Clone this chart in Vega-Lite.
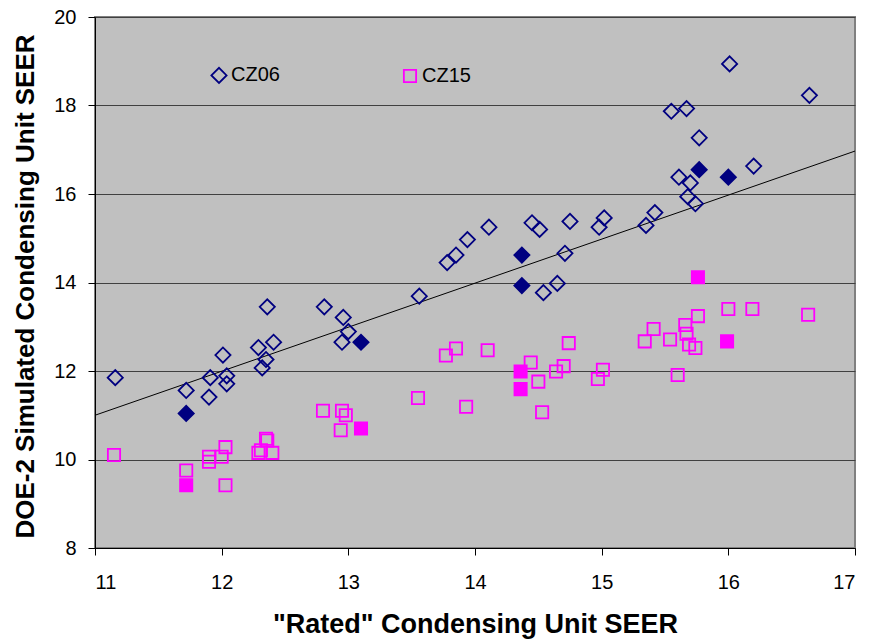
{
  "$schema": "https://vega.github.io/schema/vega-lite/v6.json",
  "width": 760,
  "height": 531,
  "autosize": {"type": "none"},
  "padding": {"left": 95, "top": 17, "right": 15, "bottom": 95},
  "background": "white",
  "config": {
    "view": {"fill": "#C0C0C0", "stroke": "#808080", "strokeWidth": 2},
    "font": "Liberation Sans",
    "axis": {
      "domainColor": "black", "tickColor": "black", "labelColor": "black", "titleColor": "black",
      "labelFont": "Liberation Sans", "titleFont": "Liberation Sans",
      "labelFontSize": 20, "titleFontSize": 26, "titleFontWeight": "bold",
      "tickSize": 7, "gridColor": "#404040", "gridOpacity": 1, "gridWidth": 1,
      "domainWidth": 1, "tickWidth": 1
    }
  },
  "layer": [
    {
      "data": {"values": [{"rated": 11, "sim": 11.0}, {"rated": 17, "sim": 16.97}]},
      "mark": {"type": "line", "color": "black", "strokeWidth": 1},
      "encoding": {
        "x": {"field": "rated", "type": "quantitative",
          "scale": {"domain": [11, 17], "nice": false, "zero": false},
          "axis": {"values": [11, 12, 13, 14, 15, 16, 17], "format": "d", "grid": false, "labelPadding": 17,
            "title": "\"Rated\" Condensing Unit SEER", "titleFontSize": 27, "titleX": 380, "titleY": 84,
            "titleBaseline": "alphabetic", "titleAlign": "center"}},
        "y": {"field": "sim", "type": "quantitative",
          "scale": {"domain": [8, 20], "nice": false, "zero": false},
          "axis": {"values": [8, 10, 12, 14, 16, 18, 20], "format": "d", "grid": true, "labelPadding": 12,
            "title": "DOE-2 Simulated Condensing Unit SEER", "titleFontSize": 26, "titleX": -62, "titleY": 269,
            "titleAngle": 270, "titleBaseline": "alphabetic", "titleAlign": "center"}}
      }
    },
    {
      "data": {"values": [
        {"series": "CZ06", "rated": 11.16, "sim": 11.85, "marked": false},
        {"series": "CZ06", "rated": 11.72, "sim": 11.56, "marked": false},
        {"series": "CZ06", "rated": 11.72, "sim": 11.04, "marked": true},
        {"series": "CZ06", "rated": 11.90, "sim": 11.41, "marked": false},
        {"series": "CZ06", "rated": 11.91, "sim": 11.85, "marked": false},
        {"series": "CZ06", "rated": 12.01, "sim": 12.36, "marked": false},
        {"series": "CZ06", "rated": 12.04, "sim": 11.89, "marked": false},
        {"series": "CZ06", "rated": 12.04, "sim": 11.71, "marked": false},
        {"series": "CZ06", "rated": 12.29, "sim": 12.53, "marked": false},
        {"series": "CZ06", "rated": 12.32, "sim": 12.07, "marked": false},
        {"series": "CZ06", "rated": 12.35, "sim": 12.26, "marked": false},
        {"series": "CZ06", "rated": 12.36, "sim": 13.45, "marked": false},
        {"series": "CZ06", "rated": 12.41, "sim": 12.65, "marked": false},
        {"series": "CZ06", "rated": 12.81, "sim": 13.45, "marked": false},
        {"series": "CZ06", "rated": 12.96, "sim": 13.21, "marked": false},
        {"series": "CZ06", "rated": 12.95, "sim": 12.65, "marked": false},
        {"series": "CZ06", "rated": 13.00, "sim": 12.89, "marked": false},
        {"series": "CZ06", "rated": 13.10, "sim": 12.65, "marked": true},
        {"series": "CZ06", "rated": 13.56, "sim": 13.69, "marked": false},
        {"series": "CZ06", "rated": 13.78, "sim": 14.45, "marked": false},
        {"series": "CZ06", "rated": 13.85, "sim": 14.62, "marked": false},
        {"series": "CZ06", "rated": 13.94, "sim": 14.97, "marked": false},
        {"series": "CZ06", "rated": 14.11, "sim": 15.25, "marked": false},
        {"series": "CZ06", "rated": 14.37, "sim": 14.62, "marked": true},
        {"series": "CZ06", "rated": 14.37, "sim": 13.93, "marked": true},
        {"series": "CZ06", "rated": 14.45, "sim": 15.35, "marked": false},
        {"series": "CZ06", "rated": 14.51, "sim": 15.20, "marked": false},
        {"series": "CZ06", "rated": 14.54, "sim": 13.77, "marked": false},
        {"series": "CZ06", "rated": 14.65, "sim": 13.98, "marked": false},
        {"series": "CZ06", "rated": 14.71, "sim": 14.66, "marked": false},
        {"series": "CZ06", "rated": 14.75, "sim": 15.38, "marked": false},
        {"series": "CZ06", "rated": 14.98, "sim": 15.25, "marked": false},
        {"series": "CZ06", "rated": 15.02, "sim": 15.46, "marked": false},
        {"series": "CZ06", "rated": 15.35, "sim": 15.29, "marked": false},
        {"series": "CZ06", "rated": 15.42, "sim": 15.58, "marked": false},
        {"series": "CZ06", "rated": 15.55, "sim": 17.87, "marked": false},
        {"series": "CZ06", "rated": 15.67, "sim": 17.93, "marked": false},
        {"series": "CZ06", "rated": 15.77, "sim": 17.27, "marked": false},
        {"series": "CZ06", "rated": 15.77, "sim": 16.55, "marked": true},
        {"series": "CZ06", "rated": 16.00, "sim": 16.38, "marked": true},
        {"series": "CZ06", "rated": 16.20, "sim": 16.63, "marked": false},
        {"series": "CZ06", "rated": 15.61, "sim": 16.38, "marked": false},
        {"series": "CZ06", "rated": 15.70, "sim": 16.25, "marked": false},
        {"series": "CZ06", "rated": 15.68, "sim": 15.94, "marked": false},
        {"series": "CZ06", "rated": 15.74, "sim": 15.78, "marked": false},
        {"series": "CZ06", "rated": 16.01, "sim": 18.94, "marked": false},
        {"series": "CZ06", "rated": 16.64, "sim": 18.23, "marked": false},
        {"series": "CZ15", "rated": 11.15, "sim": 10.10, "marked": false},
        {"series": "CZ15", "rated": 11.72, "sim": 9.75, "marked": false},
        {"series": "CZ15", "rated": 11.72, "sim": 9.42, "marked": true},
        {"series": "CZ15", "rated": 11.90, "sim": 10.06, "marked": false},
        {"series": "CZ15", "rated": 11.90, "sim": 9.95, "marked": false},
        {"series": "CZ15", "rated": 12.00, "sim": 10.06, "marked": false},
        {"series": "CZ15", "rated": 12.03, "sim": 10.28, "marked": false},
        {"series": "CZ15", "rated": 12.03, "sim": 9.42, "marked": false},
        {"series": "CZ15", "rated": 12.35, "sim": 10.47, "marked": false},
        {"series": "CZ15", "rated": 12.36, "sim": 10.43, "marked": false},
        {"series": "CZ15", "rated": 12.31, "sim": 10.21, "marked": false},
        {"series": "CZ15", "rated": 12.29, "sim": 10.15, "marked": false},
        {"series": "CZ15", "rated": 12.40, "sim": 10.15, "marked": false},
        {"series": "CZ15", "rated": 12.80, "sim": 11.10, "marked": false},
        {"series": "CZ15", "rated": 12.95, "sim": 11.10, "marked": false},
        {"series": "CZ15", "rated": 12.98, "sim": 11.00, "marked": false},
        {"series": "CZ15", "rated": 12.94, "sim": 10.66, "marked": false},
        {"series": "CZ15", "rated": 13.10, "sim": 10.70, "marked": true},
        {"series": "CZ15", "rated": 13.55, "sim": 11.39, "marked": false},
        {"series": "CZ15", "rated": 13.77, "sim": 12.35, "marked": false},
        {"series": "CZ15", "rated": 13.85, "sim": 12.51, "marked": false},
        {"series": "CZ15", "rated": 13.93, "sim": 11.19, "marked": false},
        {"series": "CZ15", "rated": 14.10, "sim": 12.47, "marked": false},
        {"series": "CZ15", "rated": 14.36, "sim": 11.99, "marked": true},
        {"series": "CZ15", "rated": 14.36, "sim": 11.59, "marked": true},
        {"series": "CZ15", "rated": 14.44, "sim": 12.19, "marked": false},
        {"series": "CZ15", "rated": 14.50, "sim": 11.76, "marked": false},
        {"series": "CZ15", "rated": 14.53, "sim": 11.07, "marked": false},
        {"series": "CZ15", "rated": 14.64, "sim": 11.99, "marked": false},
        {"series": "CZ15", "rated": 14.70, "sim": 12.11, "marked": false},
        {"series": "CZ15", "rated": 14.74, "sim": 12.63, "marked": false},
        {"series": "CZ15", "rated": 14.97, "sim": 11.82, "marked": false},
        {"series": "CZ15", "rated": 15.01, "sim": 12.03, "marked": false},
        {"series": "CZ15", "rated": 15.34, "sim": 12.67, "marked": false},
        {"series": "CZ15", "rated": 15.41, "sim": 12.95, "marked": false},
        {"series": "CZ15", "rated": 15.54, "sim": 12.71, "marked": false},
        {"series": "CZ15", "rated": 15.60, "sim": 11.91, "marked": false},
        {"series": "CZ15", "rated": 15.66, "sim": 13.04, "marked": false},
        {"series": "CZ15", "rated": 15.67, "sim": 12.84, "marked": false},
        {"series": "CZ15", "rated": 15.69, "sim": 12.60, "marked": false},
        {"series": "CZ15", "rated": 15.74, "sim": 12.52, "marked": false},
        {"series": "CZ15", "rated": 15.76, "sim": 13.24, "marked": false},
        {"series": "CZ15", "rated": 15.76, "sim": 14.12, "marked": true},
        {"series": "CZ15", "rated": 15.99, "sim": 12.67, "marked": true},
        {"series": "CZ15", "rated": 16.00, "sim": 13.40, "marked": false},
        {"series": "CZ15", "rated": 16.19, "sim": 13.40, "marked": false},
        {"series": "CZ15", "rated": 16.63, "sim": 13.27, "marked": false}
      ]},
      "resolve": {"legend": {"color": "independent", "shape": "independent", "size": "independent"}},
      "layer": [
        {
          "mark": {"type": "point", "filled": false, "opacity": 1, "strokeWidth": 1.8},
          "encoding": {
            "x": {"field": "rated", "type": "quantitative"},
            "y": {"field": "sim", "type": "quantitative"},
            "size": {"field": "series", "type": "nominal",
              "scale": {"domain": ["CZ06", "CZ15"], "range": [230, 150]}, "legend": null},
            "color": {"field": "series", "type": "nominal",
              "scale": {"domain": ["CZ06", "CZ15"], "range": ["#000080", "#FF00FF"]},
              "legend": {"orient": "none", "legendX": 114, "legendY": 48, "direction": "horizontal",
                "title": null, "labelFontSize": 20, "labelFont": "Liberation Sans", "labelColor": "black",
                "symbolSize": 170, "symbolStrokeWidth": 1.8,
                "labelOffset": 2, "columnPadding": 120, "padding": 0}},
            "shape": {"field": "series", "type": "nominal",
              "scale": {"domain": ["CZ06", "CZ15"], "range": ["diamond", "square"]},
              "legend": {"orient": "none", "legendX": 114, "legendY": 48, "direction": "horizontal",
                "title": null, "labelFontSize": 20, "labelFont": "Liberation Sans", "labelColor": "black",
                "symbolSize": 170, "symbolStrokeWidth": 1.8,
                "labelOffset": 2, "columnPadding": 120, "padding": 0}}
          }
        },
        {
          "transform": [{"filter": "datum.marked"}],
          "mark": {"type": "point", "filled": true, "opacity": 1, "strokeWidth": 1.8},
          "encoding": {
            "x": {"field": "rated", "type": "quantitative"},
            "y": {"field": "sim", "type": "quantitative"},
            "size": {"field": "series", "type": "nominal", "legend": null},
            "color": {"field": "series", "type": "nominal", "legend": null},
            "shape": {"field": "series", "type": "nominal", "legend": null}
          }
        }
      ]
    }
  ]
}
